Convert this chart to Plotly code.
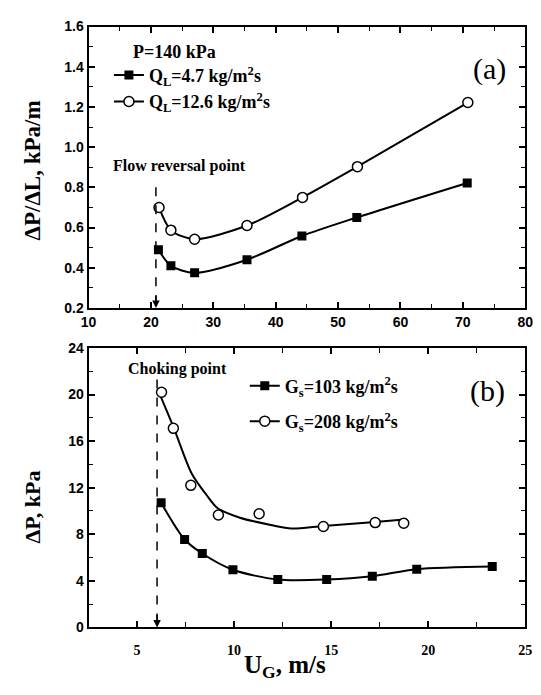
import plotly.graph_objects as go

# ---- Panel (a): pressure gradient vs gas velocity, P = 140 kPa ----
a_name1 = "Q<sub>L</sub>=4.7 kg/m<sup>2</sup>s"
a_x1 = [21.2, 23.2, 27.0, 35.4, 44.2, 53.0, 70.7]
a_y1 = [0.49, 0.41, 0.375, 0.44, 0.558, 0.65, 0.822]
a_name2 = "Q<sub>L</sub>=12.6 kg/m<sup>2</sup>s"
a_x2 = [21.3, 23.2, 27.0, 35.4, 44.3, 53.1, 70.8]
a_y2 = [0.70, 0.587, 0.542, 0.61, 0.75, 0.903, 1.222]
a_arrow_x = 20.8
a_arrow_y = [0.80, 0.20]

# ---- Panel (b): pressure drop vs gas velocity ----
b_name1 = "G<sub>s</sub>=103 kg/m<sup>2</sup>s"
b_x1 = [6.24, 7.45, 8.36, 9.94, 12.25, 14.77, 17.12, 19.41, 23.3]
b_y1 = [10.7, 7.55, 6.35, 4.95, 4.11, 4.11, 4.39, 5.0, 5.23]
b_name2 = "G<sub>s</sub>=208 kg/m<sup>2</sup>s"
b_x2 = [6.26, 6.87, 7.77, 9.19, 11.29, 14.6, 17.27, 18.74]
b_y2 = [20.2, 17.1, 12.2, 9.65, 9.76, 8.67, 9.0, 8.95]
# fitted curve drawn through the open-circle data
b_fit_x = [6.16, 6.9, 7.82, 8.64, 9.14, 10.3, 11.95, 12.95, 14.6, 17.27, 18.9]
b_fit_y = [20.05, 17.1, 13.2, 11.24, 10.26, 9.42, 8.78, 8.5, 8.72, 9.06, 9.29]
b_arrow_x = 6.03
b_arrow_y = [21.3, 0.0]

W, H = 541, 695
L, R = 83, 533
A_T, A_B = 19, 307
B_T, B_B = 348, 634

def px(x):
    return x / W

def py(y):
    return 1 - y / H

serif = "Liberation Serif"
sans = "Liberation Sans"
blk = "black"

fig = go.Figure()

fig.add_trace(go.Scatter(x=a_x1, y=a_y1, mode="lines+markers", name=a_name1,
                         line=dict(color=blk, width=2, shape="spline", smoothing=0.8),
                         marker=dict(symbol="square", size=9, color=blk),
                         xaxis="x", yaxis="y", legend="legend"))
fig.add_trace(go.Scatter(x=a_x2, y=a_y2, mode="lines+markers", name=a_name2,
                         line=dict(color=blk, width=2, shape="spline", smoothing=0.8),
                         marker=dict(symbol="circle", size=10, color="white",
                                     line=dict(color=blk, width=1.5)),
                         xaxis="x", yaxis="y", legend="legend"))

fig.add_trace(go.Scatter(x=b_x1, y=b_y1, mode="lines+markers", name=b_name1,
                         line=dict(color=blk, width=2, shape="spline", smoothing=0.8),
                         marker=dict(symbol="square", size=9, color=blk),
                         xaxis="x2", yaxis="y2", legend="legend2", legendgroup="g1"))
fig.add_trace(go.Scatter(x=b_fit_x, y=b_fit_y, mode="lines", showlegend=False,
                         line=dict(color=blk, width=2, shape="spline", smoothing=0.8),
                         xaxis="x2", yaxis="y2", hoverinfo="skip"))
fig.add_trace(go.Scatter(x=b_x2, y=b_y2, mode="markers", showlegend=False,
                         marker=dict(symbol="circle", size=10, color="white",
                                     line=dict(color=blk, width=1.5)),
                         xaxis="x2", yaxis="y2"))
# legend entry for the open circles with a line
fig.add_trace(go.Scatter(x=[None], y=[None], mode="lines+markers", name=b_name2,
                         line=dict(color=blk, width=2),
                         marker=dict(symbol="circle", size=10, color="white",
                                     line=dict(color=blk, width=1.5)),
                         xaxis="x2", yaxis="y2", legend="legend2", legendgroup="g2"))

tickfont_sans = dict(family=sans, size=14, color=blk, weight="bold")

def ax(**kw):
    base = dict(showline=True, linecolor=blk, linewidth=2, mirror="allticks",
                ticks="inside", ticklen=6, tickwidth=1.5, tickcolor=blk,
                showgrid=False, zeroline=False, fixedrange=True)
    base.update(kw)
    return base

fig.update_layout(
    width=W, height=H,
    margin=dict(l=0, r=0, t=0, b=0),
    paper_bgcolor="white", plot_bgcolor="white",
    xaxis=ax(domain=[px(L), px(R)], anchor="y", range=[10, 80], dtick=10, tick0=10,
             tickfont=tickfont_sans, ticklabelstandoff=0,
             minor=dict(dtick=5, tick0=10, ticks="inside", ticklen=4, tickwidth=1.2, tickcolor=blk)),
    yaxis=ax(domain=[py(A_B), py(A_T)], anchor="x", range=[0.2, 1.6], dtick=0.2, tick0=0.2,
             tickformat=".1f", tickfont=tickfont_sans,
             minor=dict(dtick=0.1, tick0=0.2, ticks="inside", ticklen=4, tickwidth=1.2, tickcolor=blk)),
    xaxis2=ax(domain=[px(L), px(R)], anchor="y2", range=[2.5, 25], tickvals=[5, 10, 15, 20, 25],
              tickfont=dict(family=serif, size=14, color=blk, weight="bold"), ticklabelstandoff=9,
              minor=dict(dtick=2.5, tick0=2.5, ticks="inside", ticklen=5, tickwidth=1.2, tickcolor=blk)),
    yaxis2=ax(domain=[py(B_B), py(B_T)], anchor="x2", range=[0, 24], dtick=4, tick0=0,
              tickfont=tickfont_sans,
              minor=dict(dtick=2, tick0=0, ticks="inside", ticklen=4, tickwidth=1.2, tickcolor=blk)),
    legend=dict(x=px(104), y=py(50), xanchor="left", yanchor="top",
                bgcolor="rgba(0,0,0,0)", font=dict(family=serif, size=18, color=blk, weight="bold"),
                tracegroupgap=0, itemwidth=30),
    legend2=dict(x=px(244), y=py(368), xanchor="left", yanchor="top",
                 bgcolor="rgba(0,0,0,0)", font=dict(family=serif, size=18, color=blk, weight="bold"),
                 tracegroupgap=9, itemwidth=30),
    showlegend=True,
)

ann = []
ann.append(dict(x=px(127), y=py(45), xref="paper", yref="paper", xanchor="left", yanchor="middle",
                text="P=140 kPa", showarrow=False,
                font=dict(family=serif, size=18, color=blk, weight="bold")))
ann.append(dict(x=px(496), y=py(62), xref="paper", yref="paper", xanchor="center", yanchor="middle",
                text="(a)", showarrow=False, font=dict(family=serif, size=30, color=blk)))
ann.append(dict(x=px(494), y=py(392), xref="paper", yref="paper", xanchor="center", yanchor="middle",
                text="(b)", showarrow=False, font=dict(family=serif, size=30, color=blk)))
ann.append(dict(x=px(177), y=py(162), xref="paper", yref="paper", xanchor="center", yanchor="middle",
                text="Flow reversal point", showarrow=False,
                font=dict(family=serif, size=16, color=blk, weight="bold")))
ann.append(dict(x=px(175), y=py(370), xref="paper", yref="paper", xanchor="center", yanchor="middle",
                text="Choking point", showarrow=False,
                font=dict(family=serif, size=16, color=blk, weight="bold")))
ann.append(dict(x=px(25), y=py(166), xref="paper", yref="paper", xanchor="center", yanchor="middle",
                text="ΔP/ΔL, kPa/m", textangle=-90, showarrow=False,
                font=dict(family=serif, size=23, color=blk, weight="bold")))
ann.append(dict(x=px(25), y=py(511), xref="paper", yref="paper", xanchor="center", yanchor="middle",
                text="ΔP, kPa", textangle=-90, showarrow=False,
                font=dict(family=serif, size=22, color=blk, weight="bold")))
ann.append(dict(x=px(285), y=py(674), xref="paper", yref="paper", xanchor="center", yanchor="middle",
                text="U<sub>G</sub>, m/s", showarrow=False,
                font=dict(family=serif, size=25, color=blk, weight="bold")))
# arrowheads at the bottom of the dashed lines
ann.append(dict(x=a_arrow_x, y=a_arrow_y[1], xref="x", yref="y", ax=0, ay=-14,
                text="", showarrow=True, arrowhead=2, arrowsize=1, arrowwidth=1.5, arrowcolor=blk))
ann.append(dict(x=b_arrow_x, y=b_arrow_y[1], xref="x2", yref="y2", ax=0, ay=-14,
                text="", showarrow=True, arrowhead=2, arrowsize=1, arrowwidth=1.5, arrowcolor=blk))
fig.update_layout(annotations=ann)

fig.add_shape(type="line", xref="x", yref="y", x0=a_arrow_x, x1=a_arrow_x,
              y0=a_arrow_y[0], y1=a_arrow_y[1], line=dict(color=blk, width=1.5, dash="dash"))
fig.add_shape(type="line", xref="x2", yref="y2", x0=b_arrow_x, x1=b_arrow_x,
              y0=b_arrow_y[0], y1=b_arrow_y[1], line=dict(color=blk, width=1.5, dash="dash"))

fig.write_html("out.html")
